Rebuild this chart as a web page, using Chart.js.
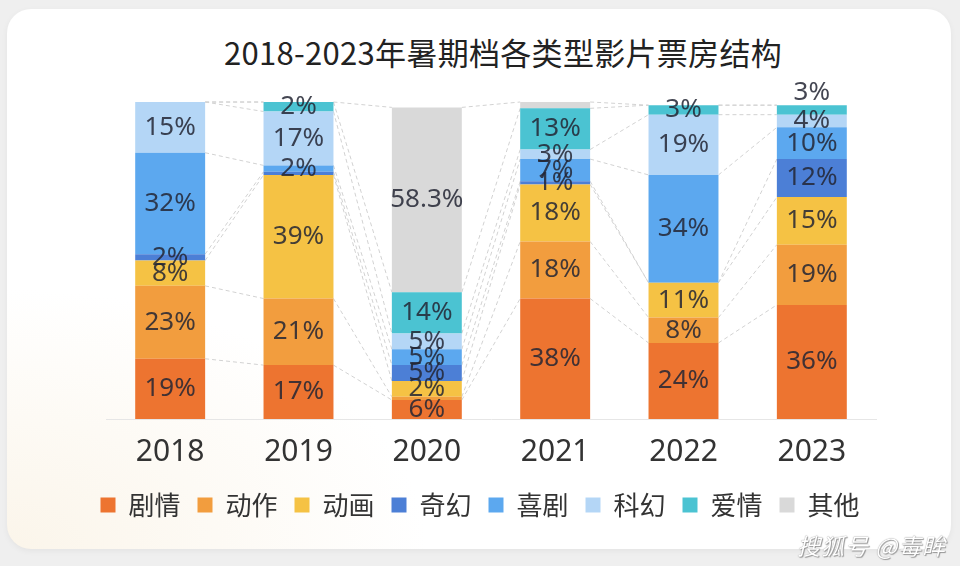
<!DOCTYPE html>
<html>
<head>
<meta charset="utf-8">
<script src="https://cdn.jsdelivr.net/npm/chart.js@4"></script>
<style>
  html, body { margin: 0; padding: 0; }
  body { width: 960px; height: 566px; background: #efefef; position: relative; overflow: hidden;
         font-family: "Noto Sans CJK SC", "Noto Sans", sans-serif; }
  .card { position: absolute; left: 7px; top: 9px; width: 944px; height: 540px; border-radius: 24px;
          background: radial-gradient(ellipse 420px 260px at 0% 100%, #fbf5ea 0%, rgba(255,255,255,0) 100%), #fff;
          box-shadow: 0 2px 6px rgba(0,0,0,0.05); }
  .title { position: absolute; left: 0; width: 1006px; top: 33px; line-height: 38px; text-align: center;
           font-size: 31px; color: #222; letter-spacing: 0.3px; }
  canvas { position: absolute; left: 0; top: 0; }
  .mark { position: absolute; right: 14px; top: 528px; font-size: 23px; font-style: italic; color: #fff;
          text-shadow: 0 0 1px #777, 1px 1px 1px #999; letter-spacing: 1px; }
</style>
</head>
<body>
<div class="card"></div>
<div class="title">2018-2023年暑期档各类型影片票房结构</div>
<canvas id="chart" width="960" height="566"></canvas>
<div class="mark">搜狐号 @毒眸</div>

<script>
// ================= DADOS =================

const years = ["2018", "2019", "2020", "2021", "2022", "2023"];
const genres = ["剧情", "动作", "动画", "奇幻", "喜剧", "科幻", "爱情", "其他"];
const colors = ["#ED7430", "#F29D3E", "#F5C244", "#4C7FD6", "#5CA8EF", "#B4D6F6", "#4BC3D2", "#D9D9D9"];

// shares as drawn (segment heights)
const drama     = [19, 17, 6, 38, 24, 36];
const action    = [23, 21, 1, 18, 8, 19];
const animation = [8, 39, 5, 18, 11, 15];
const fantasy   = [2, 1, 5, 1, 0, 12];
const comedy    = [32, 2, 5, 7, 34, 10];
const scifi     = [16, 17, 5, 3, 19, 4];
const romance   = [0, 3, 13, 13, 3, 3];
const other     = [0, 0, 58.3, 2, 0, 0];

// percentages printed on the bars (null = no label)
const dramaLabel     = [19, 17, 6, 38, 24, 36];
const actionLabel    = [23, 21, null, 18, 8, 19];
const animationLabel = [8, 39, 2, 18, 11, 15];
const fantasyLabel   = [2, null, 5, 1, null, 12];
const comedyLabel    = [32, 2, 5, 7, 34, 10];
const scifiLabel     = [15, 17, 5, 3, 19, 4];
const romanceLabel   = [null, 2, 14, 13, 3, 3];
const otherLabel     = [null, null, 58.3, null, null, null];

const series = [drama, action, animation, fantasy, comedy, scifi, romance, other];
const seriesLabels = [dramaLabel, actionLabel, animationLabel, fantasyLabel, comedyLabel, scifiLabel, romanceLabel, otherLabel];

// ================= PLUGINS =================

// dashed lines joining the same boundary in neighbouring bars
const connectors = {
  id: "connectors",
  beforeDatasetsDraw(chart) {
    const ctx = chart.ctx;
    ctx.save();
    ctx.strokeStyle = "#d2d2d2";
    ctx.lineWidth = 1;
    ctx.setLineDash([4, 3]);
    chart.data.datasets.forEach((ds, k) => {
      const bars = chart.getDatasetMeta(k).data;
      for (let i = 0; i < bars.length - 1; i++) {
        const a = bars[i], b = bars[i + 1];
        ctx.beginPath();
        ctx.moveTo(a.x + a.width / 2, a.y);
        ctx.lineTo(b.x - b.width / 2, b.y);
        ctx.stroke();
      }
    });
    ctx.restore();
  }
};

const segmentLabels = {
  id: "segmentLabels",
  afterDatasetsDraw(chart) {
    const ctx = chart.ctx;
    ctx.save();
    ctx.font = "26px 'Noto Sans', 'Noto Sans CJK SC', sans-serif";
    ctx.fillStyle = "rgba(35,38,52,0.85)";
    ctx.textAlign = "center";
    ctx.textBaseline = "middle";
    chart.data.datasets.forEach((ds, k) => {
      const bars = chart.getDatasetMeta(k).data;
      bars.forEach((bar, i) => {
        const v = seriesLabels[k][i];
        if (v === null) return;
        let y = (bar.y + bar.base) / 2;
        // the last bar's top label sits above the bar
        if (i === years.length - 1 && k === 6) y = bar.y - 13;
        ctx.fillText(v + "%", bar.x, y);
      });
    });
    ctx.restore();
  }
};

// ================= GRAFICO =================

Chart.defaults.font.family = "'Noto Sans CJK SC', 'Noto Sans', sans-serif";

// invisible side axes only reserve room, so the legend keeps the full width
const spacer = w => ({
  display: true,
  min: 0,
  max: 100,
  grid: { display: false, drawTicks: false },
  border: { display: false },
  ticks: { display: false },
  afterFit(scale) { scale.width = w; }
});

new Chart(document.getElementById("chart"), {
  type: "bar",
  data: {
    labels: years,
    datasets: genres.map((g, k) => ({
      label: g,
      data: series[k],
      backgroundColor: colors[k],
      borderWidth: 0,
      barPercentage: 0.545,
      categoryPercentage: 1
    }))
  },
  options: {
    responsive: false,
    animation: false,
    layout: { padding: { top: 102, left: 16, right: 16, bottom: 38 } },
    plugins: {
      legend: {
        position: "bottom",
        labels: {
          boxWidth: 15,
          boxHeight: 15,
          padding: 17,
          color: "#333",
          font: { size: 26 }
        }
      },
      tooltip: { enabled: false }
    },
    scales: {
      x: {
        stacked: true,
        grid: { display: false, drawTicks: false },
        border: { display: true, color: "#e6e6e6" },
        ticks: {
          padding: 20,
          color: "#333",
          font: { size: 30, lineHeight: 0.867, family: "'Noto Sans', sans-serif" }
        },
        afterFit(scale) { scale.height = 56; }
      },
      y: Object.assign(spacer(90), { stacked: true, position: "left" }),
      y2: Object.assign(spacer(68), { position: "right" })
    }
  },
  plugins: [connectors, segmentLabels]
});
</script>
</body>
</html>
